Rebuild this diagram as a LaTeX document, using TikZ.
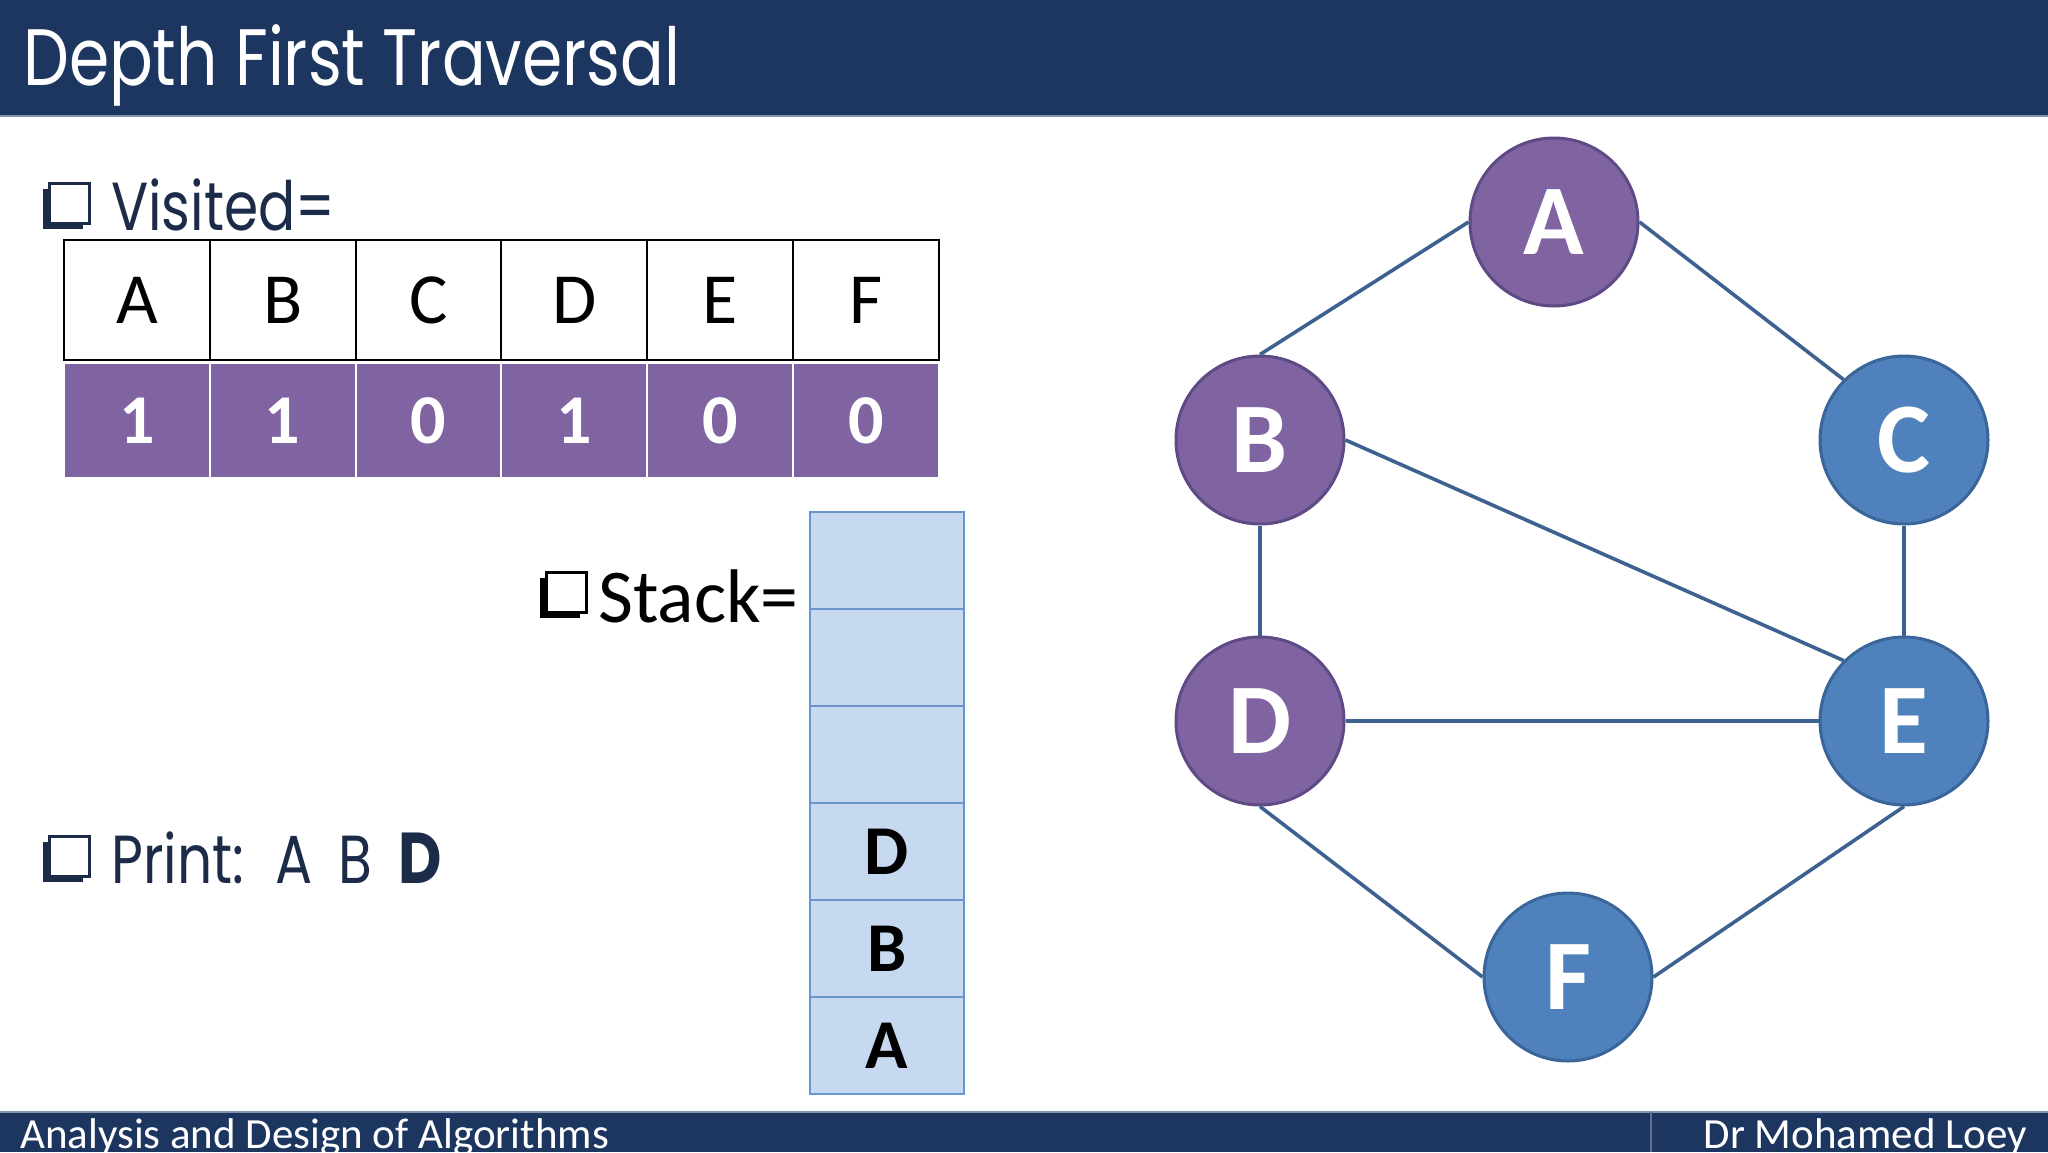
\documentclass[tikz,border=0pt]{standalone}
\usepackage{fontspec}
\setmainfont{Carlito}
\newfontfamily\twfont[FakeStretch=0.81]{Poppins}
\newfontfamily\twfontb[FakeStretch=0.83]{Poppins}
\usetikzlibrary{shadows}
\definecolor{navy}{HTML}{1D3660}
\definecolor{navyline}{HTML}{8494AC}
\definecolor{inkblue}{HTML}{1C2C48}
\definecolor{vpurple}{HTML}{8064A2}
\definecolor{vpurpleborder}{HTML}{5E4A84}
\definecolor{nblue}{HTML}{4F81BD}
\definecolor{nblueborder}{HTML}{3A6598}
\definecolor{edgec}{HTML}{3D6290}
\definecolor{stackfill}{HTML}{C6D9F1}
\definecolor{stackline}{HTML}{6A94CC}
\tikzset{
  hdrcell/.style={draw=black, line width=2pt, fill=white, minimum width=145.8pt, minimum height=120pt, inner sep=0pt, font=\fontsize{72}{80}\selectfont},
  valcell/.style={draw=white, line width=2pt, fill=vpurple, minimum width=145.8pt, minimum height=115pt, inner sep=0pt, text=white, font=\fontsize{70}{80}\selectfont\bfseries},
  stkcell/.style={draw=stackline, line width=2pt, fill=stackfill, minimum width=154pt, minimum height=97pt, inner sep=0pt, font=\fontsize{70}{80}\selectfont\bfseries},
  gnode/.style={circle, minimum size=168pt, inner sep=0pt, line width=3pt, text=white, font=\fontsize{100}{110}\selectfont\bfseries},
  visitednode/.style={gnode, fill=vpurple, draw=vpurpleborder},
  freshnode/.style={gnode, fill=nblue, draw=nblueborder},
  gedge/.style={draw=edgec, line width=3.6pt},
  shbullet/.style={draw=#1, fill=white, line width=3pt, minimum size=40pt, inner sep=0pt,
     drop shadow={shadow xshift=-6pt, shadow yshift=-6pt, fill=#1, opacity=1}},
  slidetext/.style={anchor=base west, inner sep=0pt, text=inkblue, font=\twfont\fontsize{68}{78}\selectfont},
}
\begin{document}
\begin{tikzpicture}[x=1pt, y=-1pt]
\useasboundingbox (0,0) rectangle (2048,1152);
\clip (0,0) rectangle (2048,1152);
% header and footer bars
\fill[navy] (0,0) rectangle (2048,116);
\draw[navyline, line width=1.5pt] (0,116) -- (2048,116);
\fill[navy] (0,1112) rectangle (2048,1152);
\draw[navyline, line width=1.5pt] (0,1112) -- (2048,1112);
\draw[white!30!navy, line width=2pt] (1651,1112) -- (1651,1152);
\node[anchor=base west, inner sep=0pt, text=white, font=\twfont\fontsize{80}{90}\selectfont] (title) at (23,85) {Depth First Traversal};
\node[anchor=base west, inner sep=0pt, text=white, font=\fontsize{43}{50}\selectfont] (foot1) at (20,1148) {Analysis and Design of Algorithms};
\node[anchor=base east, inner sep=0pt, text=white, font=\fontsize{43}{50}\selectfont] (foot2) at (2027,1148) {Dr Mohamed Loey};
% Visited
\node[shbullet=inkblue] (b1) at (69,203) {};
\node[slidetext] (vis) at (111,230) {Visited=};
\foreach \L [count=\i] in {A,B,C,D,E,F}{
  \node[hdrcell] (h\i) at ({64+145.8*(\i-0.5)},300) {\L};
}
\foreach \V [count=\i] in {1,1,0,1,0,0}{
  \node[valcell] (v\i) at ({64+145.8*(\i-0.5)},420.5) {\V};
}
% Stack
\node[shbullet=black] (b2) at (566,592) {};
\node[anchor=base west, inner sep=0pt, font=\fontsize{76}{86}\selectfont] (stk) at (598,622) {Stack=};
\foreach \S [count=\i] in {{},{},{},D,B,A}{
  \node[stkcell] (s\i) at (887,{512+97*(\i-0.5)}) {\S};
}
% Print
\node[shbullet=inkblue] (b3) at (69,856) {};
\node[slidetext] (prt) at (111,883) {Print:\, A\, B\, {\twfontb\fontsize{72}{80}\selectfont\bfseries D}};
% Graph
\node[visitednode] (A) at (1554,222) {A};
\node[visitednode] (B) at (1260,440) {B};
\node[freshnode] (C) at (1904,440) {C};
\node[visitednode] (D) at (1260,721) {D};
\node[freshnode] (E) at (1904,721) {E};
\node[freshnode] (F) at (1568,977) {F};
\draw[gedge] (A.west) -- (B.north);
\draw[gedge] (A.east) -- (C.north west);
\draw[gedge] (B.east) -- (E.north west);
\draw[gedge] (B.south) -- (D.north);
\draw[gedge] (C.south) -- (E.north);
\draw[gedge] (D.east) -- (E.west);
\draw[gedge] (D.south) -- (F.west);
\draw[gedge] (E.south) -- (F.east);
\end{tikzpicture}
\end{document}
